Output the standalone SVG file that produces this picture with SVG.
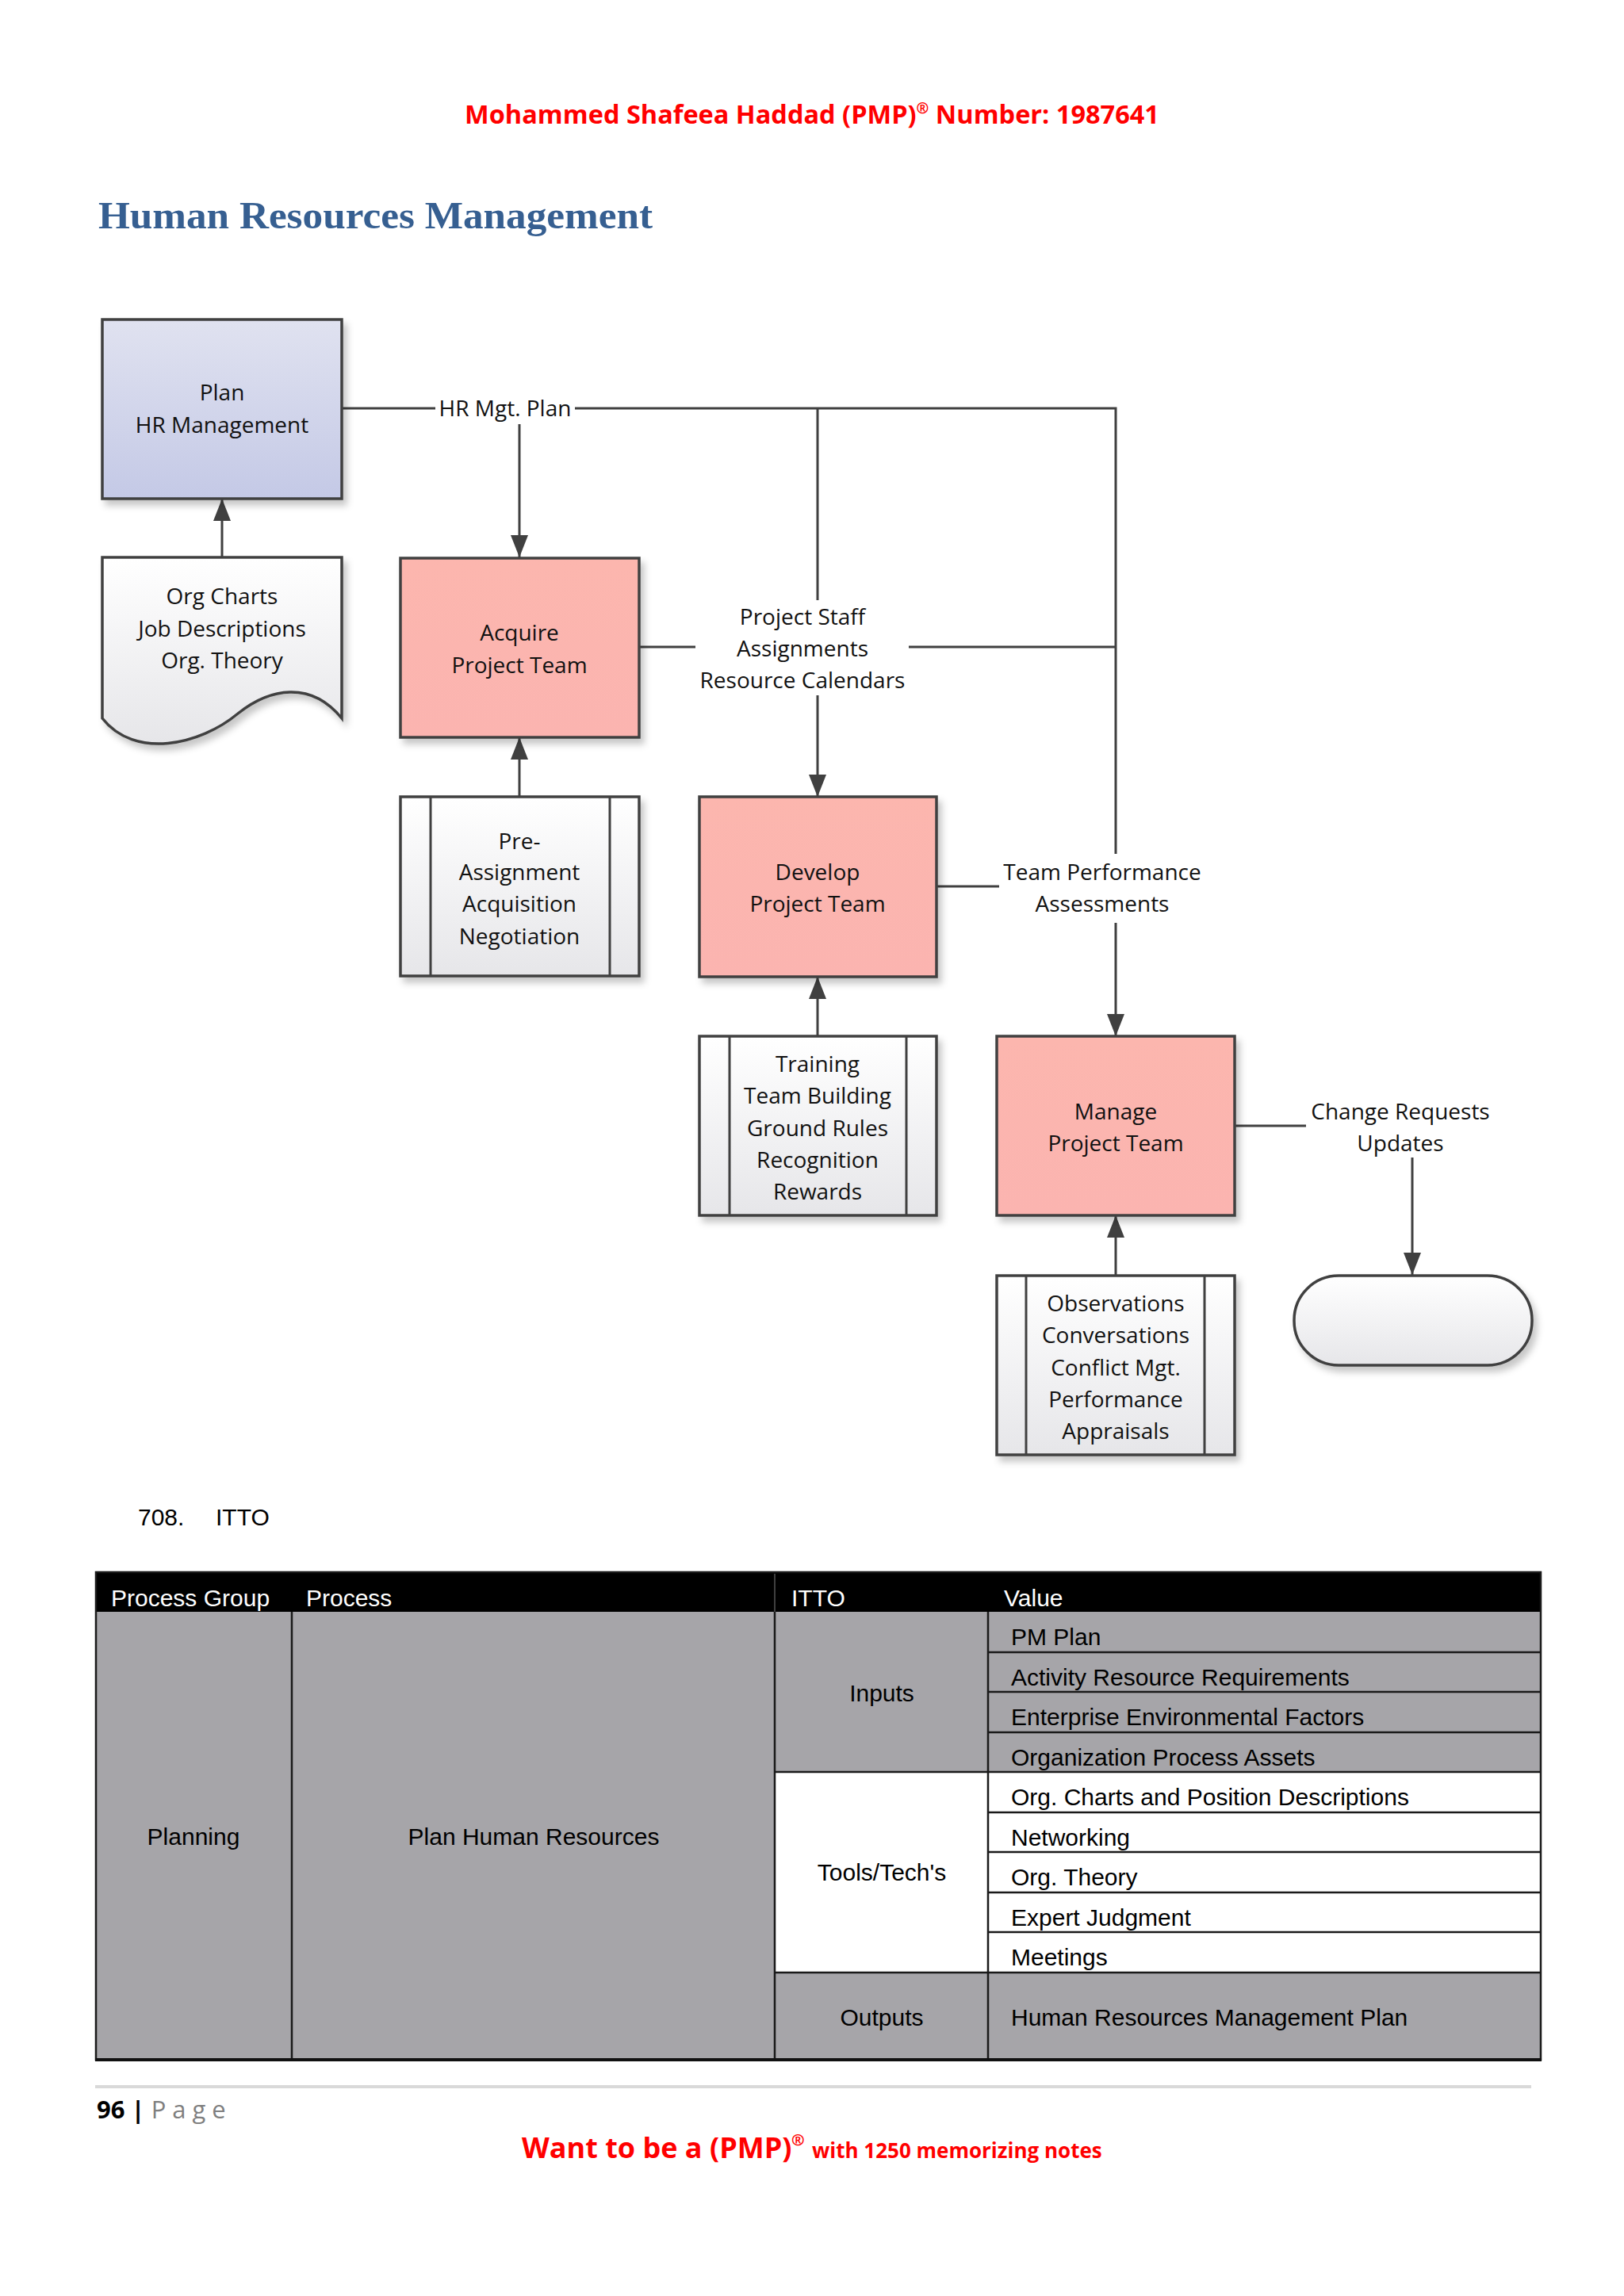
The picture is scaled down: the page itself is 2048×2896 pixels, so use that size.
<svg xmlns="http://www.w3.org/2000/svg" width="2048" height="2896" viewBox="0 0 2048 2896">
<style>
.ln{fill:none;stroke:#404040;stroke-width:3}
.box{stroke:#404040;stroke-width:3.5}
.t{font-family:"Open Sans","Noto Sans",sans-serif;font-size:28px;fill:#111;text-anchor:middle}
.tb{font-family:"Liberation Sans",Arial,sans-serif;font-size:30px;fill:#000}
.th{font-family:"Liberation Sans",Arial,sans-serif;font-size:30px;fill:#fff}
.c{text-anchor:middle}
.row{stroke:#1a1a1a;stroke-width:2.5}
.hd{font-family:"Open Sans","Liberation Sans",sans-serif;font-weight:bold;fill:#ff0000}
</style>
<defs>
<linearGradient id="gPlan" x1="0" y1="0" x2="0" y2="1"><stop offset="0" stop-color="#e0e2f0"/><stop offset="1" stop-color="#c4c9e6"/></linearGradient>
<linearGradient id="gPink" x1="0" y1="0" x2="0" y2="1"><stop offset="0" stop-color="#fcb6ae"/><stop offset="1" stop-color="#fbb4b0"/></linearGradient>
<linearGradient id="gGray" x1="0" y1="0" x2="0" y2="1"><stop offset="0" stop-color="#ffffff"/><stop offset="1" stop-color="#e6e6e9"/></linearGradient>
<filter id="sh" x="-10%" y="-10%" width="130%" height="130%"><feDropShadow dx="5" dy="7" stdDeviation="4" flood-color="#000" flood-opacity="0.22"/></filter>
<marker id="ar" viewBox="0 0 28 22" refX="28" refY="11" markerWidth="28" markerHeight="22" orient="auto" markerUnits="userSpaceOnUse"><path d="M0,0 L28,11 L0,22 Z" fill="#404040"/></marker>
</defs>
<rect width="2048" height="2896" fill="#ffffff"/>

<text class="hd" x="1024" y="156" font-size="32.5" text-anchor="middle">Mohammed Shafeea Haddad (PMP)<tspan font-size="19" baseline-shift="super">®</tspan> Number: 1987641</text>
<text x="124" y="288" font-family="'Liberation Serif',serif" font-weight="bold" font-size="48" fill="#365f91" textLength="699" lengthAdjust="spacingAndGlyphs">Human Resources Management</text>

<g id="connectors">
<path class="ln" d="M431,515 H549 M725,515 H1407 V1077"/>
<path class="ln" d="M655,535 V703" marker-end="url(#ar)"/>
<path class="ln" d="M1031,515 V757"/>
<path class="ln" d="M1031,877 V1005" marker-end="url(#ar)"/>
<path class="ln" d="M805,816 H877 M1146,816 H1407"/>
<path class="ln" d="M1181,1118 H1260"/>
<path class="ln" d="M1407,1164 V1307" marker-end="url(#ar)"/>
<path class="ln" d="M280,703 V629" marker-end="url(#ar)"/>
<path class="ln" d="M655,1005 V930" marker-end="url(#ar)"/>
<path class="ln" d="M1031,1307 V1232" marker-end="url(#ar)"/>
<path class="ln" d="M1407,1609 V1533" marker-end="url(#ar)"/>
<path class="ln" d="M1556,1420 H1647"/>
<path class="ln" d="M1781,1460 V1608" marker-end="url(#ar)"/>
<text class="t" x="637" y="525">HR Mgt. Plan</text>
<text class="t" x="1012" y="788">Project Staff</text>
<text class="t" x="1012" y="828">Assignments</text>
<text class="t" x="1012" y="868">Resource Calendars</text>
<text class="t" x="1390" y="1110">Team Performance</text>
<text class="t" x="1390" y="1150">Assessments</text>
<text class="t" x="1766" y="1412">Change Requests</text>
<text class="t" x="1766" y="1452">Updates</text>
</g>

<g id="plan">
<rect class="box" x="129" y="403" width="302" height="226" fill="url(#gPlan)" filter="url(#sh)"/>
<text class="t" x="280" y="505">Plan</text>
<text class="t" x="280" y="546">HR Management</text>
</g>

<g id="orgcharts">
<path class="box" d="M129,703 H431 V906 C392,858 340,868 300,900 C252,940 170,958 129,906 Z" fill="url(#gGray)" filter="url(#sh)"/>
<text class="t" x="280" y="762">Org Charts</text>
<text class="t" x="280" y="803">Job Descriptions</text>
<text class="t" x="280" y="843">Org. Theory</text>
</g>

<g id="acquire">
<rect class="box" x="505" y="704" width="301" height="226" fill="url(#gPink)" filter="url(#sh)"/>
<text class="t" x="655" y="808">Acquire</text>
<text class="t" x="655" y="849">Project Team</text>
</g>

<g id="preassign">
<rect class="box" x="505" y="1005" width="301" height="226" fill="url(#gGray)" filter="url(#sh)"/>
<path class="ln" d="M543,1005 V1231 M769,1005 V1231"/>
<text class="t" x="655" y="1071">Pre-</text>
<text class="t" x="655" y="1110">Assignment</text>
<text class="t" x="655" y="1150">Acquisition</text>
<text class="t" x="655" y="1191">Negotiation</text>
</g>

<g id="develop">
<rect class="box" x="882" y="1005" width="299" height="227" fill="url(#gPink)" filter="url(#sh)"/>
<text class="t" x="1031" y="1110">Develop</text>
<text class="t" x="1031" y="1150">Project Team</text>
</g>

<g id="training">
<rect class="box" x="882" y="1307" width="299" height="226" fill="url(#gGray)" filter="url(#sh)"/>
<path class="ln" d="M920,1307 V1533 M1143,1307 V1533"/>
<text class="t" x="1031" y="1352">Training</text>
<text class="t" x="1031" y="1392">Team Building</text>
<text class="t" x="1031" y="1433">Ground Rules</text>
<text class="t" x="1031" y="1473">Recognition</text>
<text class="t" x="1031" y="1513">Rewards</text>
</g>

<g id="manage">
<rect class="box" x="1257" y="1307" width="300" height="226" fill="url(#gPink)" filter="url(#sh)"/>
<text class="t" x="1407" y="1412">Manage</text>
<text class="t" x="1407" y="1452">Project Team</text>
</g>

<g id="observations">
<rect class="box" x="1257" y="1609" width="300" height="226" fill="url(#gGray)" filter="url(#sh)"/>
<path class="ln" d="M1294,1609 V1835 M1519,1609 V1835"/>
<text class="t" x="1407" y="1654">Observations</text>
<text class="t" x="1407" y="1694">Conversations</text>
<text class="t" x="1407" y="1735">Conflict Mgt.</text>
<text class="t" x="1407" y="1775">Performance</text>
<text class="t" x="1407" y="1815">Appraisals</text>
</g>

<g id="terminator">
<rect class="box" x="1632" y="1609" width="300" height="113" rx="56" ry="56" fill="url(#gGray)" filter="url(#sh)"/>
</g>

<text class="tb" x="174" y="1924">708.</text>
<text class="tb" x="272" y="1924">ITTO</text>

<g id="table">
<rect x="121" y="1983" width="1822" height="50" fill="#000"/>
<rect x="121" y="2033" width="856" height="565" fill="#a6a5a9"/>
<rect x="977" y="2033" width="966" height="202" fill="#a6a5a9"/>
<rect x="977" y="2235" width="966" height="253" fill="#ffffff"/>
<rect x="977" y="2488" width="966" height="110" fill="#a6a5a9"/>
<line x1="977" y1="1985" x2="977" y2="2033" stroke="#555" stroke-width="1.5"/>
<g class="row">
<line x1="368" y1="2033" x2="368" y2="2598"/>
<line x1="977" y1="2033" x2="977" y2="2598"/>
<line x1="1246" y1="2033" x2="1246" y2="2598"/>
<line x1="1246" y1="2084" x2="1943" y2="2084"/>
<line x1="1246" y1="2134" x2="1943" y2="2134"/>
<line x1="1246" y1="2185" x2="1943" y2="2185"/>
<line x1="977" y1="2235" x2="1943" y2="2235"/>
<line x1="1246" y1="2286" x2="1943" y2="2286"/>
<line x1="1246" y1="2336" x2="1943" y2="2336"/>
<line x1="1246" y1="2387" x2="1943" y2="2387"/>
<line x1="1246" y1="2437" x2="1943" y2="2437"/>
<line x1="977" y1="2488" x2="1943" y2="2488"/>
</g>
<rect x="121" y="1983" width="1822" height="615" fill="none" stroke="#1a1a1a" stroke-width="2.5"/>
<line x1="120" y1="2598" x2="1944" y2="2598" stroke="#111" stroke-width="4"/>
<text class="th" x="140" y="2026">Process Group</text>
<text class="th" x="386" y="2026">Process</text>
<text class="th" x="998" y="2026">ITTO</text>
<text class="th" x="1266" y="2026">Value</text>
<text class="tb c" x="244" y="2327">Planning</text>
<text class="tb c" x="673" y="2327">Plan Human Resources</text>
<text class="tb c" x="1112" y="2146">Inputs</text>
<text class="tb c" x="1112" y="2372">Tools/Tech's</text>
<text class="tb c" x="1112" y="2555">Outputs</text>
<text class="tb" x="1275" y="2075">PM Plan</text>
<text class="tb" x="1275" y="2126">Activity Resource Requirements</text>
<text class="tb" x="1275" y="2176">Enterprise Environmental Factors</text>
<text class="tb" x="1275" y="2227">Organization Process Assets</text>
<text class="tb" x="1275" y="2277">Org. Charts and Position Descriptions</text>
<text class="tb" x="1275" y="2328">Networking</text>
<text class="tb" x="1275" y="2378">Org. Theory</text>
<text class="tb" x="1275" y="2429">Expert Judgment</text>
<text class="tb" x="1275" y="2479">Meetings</text>
<text class="tb" x="1275" y="2555">Human Resources Management Plan</text>
</g>

<line x1="120" y1="2632" x2="1931" y2="2632" stroke="#d9d9d9" stroke-width="4"/>
<text x="122" y="2672" font-family="'Open Sans','Liberation Sans',sans-serif" font-size="31"><tspan font-weight="bold" fill="#000">96</tspan><tspan fill="#000" font-weight="bold"> | </tspan><tspan fill="#7f7f7f" letter-spacing="8">Page</tspan></text>
<text class="hd" x="658" y="2722" font-size="36">Want to be a (PMP)</text>
<text class="hd" x="998" y="2706" font-size="20">®</text>
<text class="hd" x="1024" y="2722" font-size="26">with 1250 memorizing notes</text>
</svg>
